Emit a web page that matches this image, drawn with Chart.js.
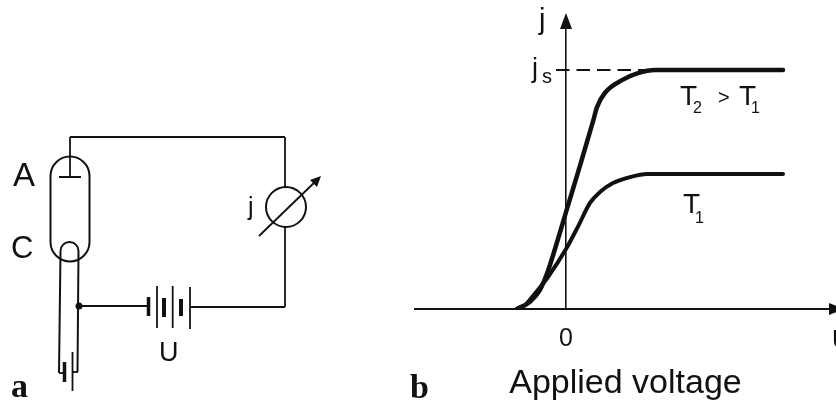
<!DOCTYPE html>
<html lang="en">
<head>
<meta charset="UTF-8">
<title>Saturation current</title>
<script src="https://cdn.jsdelivr.net/npm/chart.js"></script>
<style>
  html, body { margin: 0; padding: 0; background: #fff; }
  canvas { display: block; }
</style>
</head>
<body>
<canvas id="grafica" width="836" height="404"></canvas>
<script>
// curve T2 > T1 (j relative to js)
const t2Voltage = [-0.98, -0.72, -0.52, -0.36, -0.16, 0, 0.28, 0.54, 0.62, 0.78, 1.12, 1.44, 1.78, 4.34];
const t2Current = [0, 0.03, 0.08, 0.16, 0.293, 0.405, 0.6, 0.785, 0.845, 0.905, 0.958, 0.987, 1, 1];
// curve T1
const t1Voltage = [-0.98, -0.8, -0.62, -0.36, 0, 0.24, 0.48, 0.68, 0.94, 1.28, 1.62, 1.88, 4.34];
const t1Current = [0, 0.02, 0.065, 0.134, 0.251, 0.345, 0.444, 0.49, 0.527, 0.552, 0.565, 0.565, 0.565];
// dashed saturation level
const jsVoltage = [-0.2, 1.8];
const jsCurrent = [1, 1];
const xTicks = [0];
const xTitle = "Applied voltage";

const INK = "#111";
const SANS = '"Liberation Sans", Arial, sans-serif';
const SERIF = '"Liberation Serif", serif';

const toPoints = (xs, ys) => xs.map((x, i) => ({ x: x, y: ys[i] }));

function line(ctx, x1, y1, x2, y2, w) {
  ctx.lineWidth = w || 1.8;
  ctx.beginPath();
  ctx.moveTo(x1, y1);
  ctx.lineTo(x2, y2);
  ctx.stroke();
}

function label(ctx, text, x, y, font) {
  ctx.font = font;
  ctx.fillText(text, x, y);
}

function triangle(ctx, x1, y1, x2, y2, x3, y3) {
  ctx.beginPath();
  ctx.moveTo(x1, y1);
  ctx.lineTo(x2, y2);
  ctx.lineTo(x3, y3);
  ctx.closePath();
  ctx.fill();
}

// panel a: tube, meter and battery (a drawing, not data)
function dibujarCircuito(ctx) {
  // wires
  line(ctx, 70, 137, 285, 137);
  line(ctx, 70, 137, 70, 177);
  line(ctx, 59, 177, 81, 177, 2);
  line(ctx, 285, 137, 285, 187);
  line(ctx, 285, 227, 285, 307);
  line(ctx, 190, 307, 285, 307);
  line(ctx, 79, 306, 148, 306);

  // tube
  ctx.lineWidth = 2;
  ctx.beginPath();
  ctx.arc(70, 176, 19.5, Math.PI, 0);
  ctx.arc(70, 242, 19.5, 0, Math.PI);
  ctx.closePath();
  ctx.stroke();

  // cathode
  ctx.beginPath();
  ctx.moveTo(59, 373);
  ctx.lineTo(60.5, 251);
  ctx.arc(69.5, 251, 9, Math.PI, 0);
  ctx.lineTo(77.5, 372);
  ctx.stroke();
  ctx.beginPath();
  ctx.arc(79, 306, 3.5, 0, Math.PI * 2);
  ctx.fill();

  // heater battery
  line(ctx, 59, 373, 64, 373);
  line(ctx, 64.5, 362, 64.5, 382, 3.5);
  line(ctx, 72.5, 352, 72.5, 391);
  line(ctx, 72.5, 372, 78, 372);

  // battery U
  line(ctx, 148.5, 297, 148.5, 316, 3.5);
  line(ctx, 157, 286, 157, 328);
  line(ctx, 164, 298, 164, 317, 4);
  line(ctx, 172.7, 286, 172.7, 328);
  line(ctx, 181, 299, 181, 316, 4);
  line(ctx, 190, 287, 190, 329);

  // meter
  ctx.lineWidth = 2;
  ctx.beginPath();
  ctx.arc(286, 207, 20, 0, Math.PI * 2);
  ctx.stroke();
  line(ctx, 259, 236, 318, 179);
  triangle(ctx, 321, 176, 310, 180, 317, 187);

  label(ctx, "A", 13, 186, "33px " + SANS);
  label(ctx, "C", 11, 258, "31px " + SANS);
  label(ctx, "j", 248, 215, "25px " + SANS);
  label(ctx, "U", 159, 361, "27px " + SANS);
  label(ctx, "a", 11, 397, "bold 34px " + SERIF);
  label(ctx, "b", 410, 398, "bold 34px " + SERIF);
}

const anotaciones = {
  id: "anotaciones",
  afterDraw(chart) {
    const ctx = chart.ctx;
    const xs = chart.scales.x;
    const ys = chart.scales.y;
    const x0 = xs.getPixelForValue(0);
    const top = ys.top;
    const base = ys.bottom;

    ctx.save();
    ctx.fillStyle = INK;
    ctx.strokeStyle = INK;
    ctx.textBaseline = "alphabetic";

    dibujarCircuito(ctx);

    // axis arrows
    triangle(ctx, x0, top - 15, x0 - 6, top + 1, x0 + 6, top + 1);
    triangle(ctx, xs.right + 8, base, xs.right - 7, base - 6, xs.right - 7, base + 6);

    label(ctx, "j", x0 - 27, 29, "29px " + SANS);
    label(ctx, "j", x0 - 34, 77, "27px " + SANS);
    label(ctx, "s", x0 - 24, 83, "20px " + SANS);
    label(ctx, "U", xs.right - 4, 348, "25px " + SANS);

    label(ctx, "T", 680, 105, "28px " + SANS);
    label(ctx, "2", 693, 113, "16px " + SANS);
    label(ctx, ">", 718, 104, "20px " + SANS);
    label(ctx, "T", 739, 105, "28px " + SANS);
    label(ctx, "1", 751, 113, "16px " + SANS);
    label(ctx, "T", 683, 213, "28px " + SANS);
    label(ctx, "1", 695, 223, "16px " + SANS);
    ctx.restore();
  }
};

new Chart(document.getElementById("grafica"), {
  type: "scatter",
  data: {
    datasets: [
      {
        label: "js",
        data: toPoints(jsVoltage, jsCurrent),
        showLine: true,
        borderColor: INK,
        borderWidth: 2,
        borderDash: [13.5, 7],
        pointRadius: 0
      },
      {
        label: "T2",
        data: toPoints(t2Voltage, t2Current),
        showLine: true,
        borderColor: INK,
        borderWidth: 4.5,
        borderCapStyle: "round",
        cubicInterpolationMode: "monotone",
        pointRadius: 0
      },
      {
        label: "T1",
        data: toPoints(t1Voltage, t1Current),
        showLine: true,
        borderColor: INK,
        borderWidth: 4,
        borderCapStyle: "round",
        cubicInterpolationMode: "monotone",
        pointRadius: 0
      }
    ]
  },
  options: {
    responsive: false,
    animation: false,
    layout: { padding: { left: 415, top: 28, right: 0, bottom: 0 } },
    plugins: { legend: { display: false }, tooltip: { enabled: false } },
    scales: {
      x: {
        position: "bottom",
        min: -3.02,
        max: 5.4,
        afterBuildTicks: scale => { scale.ticks = xTicks.map(v => ({ value: v })); },
        afterFit: scale => { scale.height = 95; },
        grid: { display: false, drawTicks: false },
        border: { color: INK, width: 2 },
        ticks: { color: INK, font: { family: "Liberation Sans", size: 25 }, padding: 15, maxRotation: 0 },
        title: {
          display: true,
          text: xTitle,
          color: INK,
          font: { family: "Liberation Sans", size: 34 },
          padding: { top: 0, bottom: 0 }
        }
      },
      y: {
        position: { x: 0 },
        min: 0,
        max: 1.176,
        grid: { display: false, drawTicks: false },
        border: { color: INK, width: 1.6 },
        ticks: { display: false }
      }
    }
  },
  plugins: [anotaciones]
});
</script>
</body>
</html>
